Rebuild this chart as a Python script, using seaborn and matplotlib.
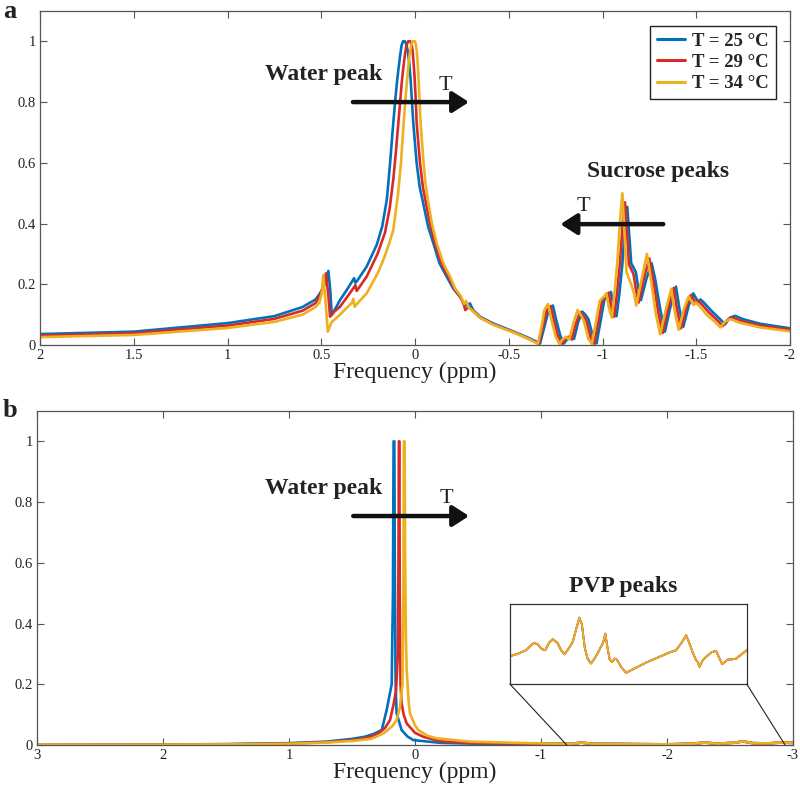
import numpy as np
import pandas as pd
import seaborn as sns
import matplotlib
matplotlib.use("Agg")
import matplotlib.pyplot as plt
from matplotlib.patches import ConnectionPatch
from matplotlib.ticker import FuncFormatter

# ------------------------------------------------------------
# Series names / colours
series = ["T = 25 °C", "T = 29 °C", "T = 34 °C"]
colors = ["#0072BD", "#D92A2A", "#EDB120"]

# ------------------------------------------------------------
# Panel a: sucrose solution spectra (frequency ppm, normalised intensity)
blue_a = [(2.0, 0.036), (1.5, 0.044), (1.0, 0.072), (0.75, 0.095), (0.6, 0.125), (0.53, 0.15),
          (0.507, 0.17), (0.48, 0.2), (0.462, 0.244), (0.452, 0.18), (0.444, 0.099), (0.42, 0.125),
          (0.4, 0.148), (0.36, 0.185), (0.325, 0.22), (0.318, 0.205), (0.31, 0.21), (0.258, 0.258),
          (0.204, 0.33), (0.175, 0.39), (0.15, 0.48), (0.133, 0.598), (0.12, 0.70), (0.107, 0.795),
          (0.097, 0.86), (0.089, 0.905), (0.08, 0.95), (0.072, 0.985), (0.064, 1.0), (0.054, 1.0),
          (0.046, 0.99), (0.038, 0.965), (0.03, 0.925), (0.023, 0.87), (0.016, 0.80),
          (0.009, 0.73), (-0.009, 0.598), (-0.025, 0.52), (-0.044, 0.466), (-0.07, 0.39),
          (-0.098, 0.335), (-0.13, 0.27), (-0.169, 0.225), (-0.205, 0.185),
          (-0.24, 0.159), (-0.262, 0.137), (-0.275, 0.13), (-0.293, 0.137), (-0.31, 0.115),
          (-0.347, 0.093), (-0.42, 0.07), (-0.507, 0.049), (-0.6, 0.025), (-0.667, 0.005), (-0.69, 0.06),
          (-0.715, 0.12), (-0.735, 0.13), (-0.75, 0.09), (-0.775, 0.03), (-0.795, 0.005),
          (-0.812, 0.02), (-0.83, 0.03), (-0.848, 0.02), (-0.87, 0.075), (-0.892, 0.11),
          (-0.908, 0.10), (-0.925, 0.085), (-0.95, 0.025), (-0.968, 0.005), (-0.99, 0.08),
          (-1.01, 0.15), (-1.03, 0.165), (-1.045, 0.175), (-1.058, 0.13), (-1.075, 0.095),
          (-1.09, 0.17), (-1.105, 0.26), (-1.12, 0.39), (-1.132, 0.455), (-1.143, 0.36),
          (-1.153, 0.27), (-1.165, 0.255), (-1.178, 0.24), (-1.19, 0.19), (-1.205, 0.148),
          (-1.235, 0.22), (-1.262, 0.269), (-1.28, 0.22), (-1.31, 0.11), (-1.333, 0.044),
          (-1.36, 0.12), (-1.392, 0.192), (-1.41, 0.12), (-1.431, 0.06), (-1.46, 0.13),
          (-1.484, 0.17), (-1.498, 0.155), (-1.511, 0.142), (-1.522, 0.15), (-1.54, 0.14),
          (-1.58, 0.113), (-1.627, 0.085), (-1.653, 0.068), (-1.68, 0.09), (-1.707, 0.096),
          (-1.75, 0.085), (-1.84, 0.07), (-2.0, 0.055)]

red_a = [(2.0, 0.031), (1.5, 0.039), (1.0, 0.064), (0.75, 0.086), (0.6, 0.113), (0.53, 0.138),
         (0.515, 0.155), (0.49, 0.19), (0.475, 0.236), (0.463, 0.17), (0.453, 0.093), (0.43, 0.11),
         (0.4, 0.126), (0.36, 0.16), (0.325, 0.19), (0.318, 0.197), (0.311, 0.178), (0.258, 0.225),
         (0.20, 0.30), (0.16, 0.37), (0.135, 0.45), (0.115, 0.55), (0.10, 0.65), (0.08, 0.795),
         (0.07, 0.87), (0.062, 0.915), (0.054, 0.955), (0.046, 0.985), (0.037, 1.0), (0.025, 1.0),
         (0.018, 0.99), (0.012, 0.965), (0.004, 0.90), (-0.003, 0.82),
         (-0.009, 0.73), (-0.027, 0.598), (-0.042, 0.52), (-0.059, 0.466), (-0.08, 0.40),
         (-0.107, 0.335), (-0.14, 0.27), (-0.178, 0.225), (-0.21, 0.185),
         (-0.245, 0.155), (-0.262, 0.13), (-0.268, 0.115), (-0.285, 0.125), (-0.305, 0.115),
         (-0.347, 0.09), (-0.42, 0.067), (-0.507, 0.047), (-0.6, 0.022), (-0.66, 0.004), (-0.68, 0.055),
         (-0.703, 0.115), (-0.723, 0.128), (-0.738, 0.088), (-0.763, 0.028), (-0.783, 0.004),
         (-0.8, 0.018), (-0.818, 0.027), (-0.836, 0.018), (-0.858, 0.07), (-0.88, 0.108),
         (-0.896, 0.098), (-0.913, 0.082), (-0.938, 0.022), (-0.956, 0.004), (-0.978, 0.078),
         (-0.998, 0.148), (-1.018, 0.162), (-1.033, 0.172), (-1.046, 0.128), (-1.063, 0.093),
         (-1.078, 0.175), (-1.093, 0.27), (-1.108, 0.40), (-1.12, 0.47), (-1.131, 0.37),
         (-1.141, 0.265), (-1.153, 0.25), (-1.166, 0.232), (-1.178, 0.183), (-1.193, 0.14),
         (-1.223, 0.225), (-1.25, 0.285), (-1.268, 0.225), (-1.298, 0.105), (-1.321, 0.04),
         (-1.348, 0.115), (-1.38, 0.188), (-1.398, 0.115), (-1.419, 0.055), (-1.448, 0.125),
         (-1.472, 0.165), (-1.486, 0.15), (-1.499, 0.137), (-1.51, 0.145), (-1.528, 0.135),
         (-1.568, 0.107), (-1.615, 0.08), (-1.641, 0.062), (-1.668, 0.084), (-1.695, 0.09),
         (-1.74, 0.079), (-1.84, 0.064), (-2.0, 0.05)]

yellow_a = [(2.0, 0.026), (1.5, 0.033), (1.0, 0.056), (0.75, 0.076), (0.6, 0.10), (0.53, 0.125),
            (0.51, 0.14), (0.498, 0.17), (0.489, 0.23), (0.478, 0.15), (0.465, 0.044), (0.445, 0.075),
            (0.4, 0.10), (0.36, 0.125), (0.335, 0.14), (0.329, 0.152), (0.322, 0.126), (0.31, 0.135),
            (0.258, 0.17), (0.20, 0.235), (0.169, 0.28), (0.14, 0.33), (0.116, 0.378), (0.09, 0.50),
            (0.075, 0.598), (0.064, 0.70), (0.053, 0.795), (0.044, 0.86), (0.036, 0.915),
            (0.029, 0.955), (0.021, 0.985), (0.013, 1.0), (0.0, 1.0), (-0.006, 0.985),
            (-0.012, 0.95), (-0.017, 0.90), (-0.023, 0.82), (-0.03, 0.73), (-0.046, 0.598),
            (-0.058, 0.52), (-0.072, 0.466), (-0.09, 0.40), (-0.116, 0.335), (-0.15, 0.27),
            (-0.187, 0.225), (-0.215, 0.185), (-0.245, 0.16), (-0.262, 0.135),
            (-0.272, 0.145), (-0.285, 0.125), (-0.347, 0.09), (-0.42, 0.066), (-0.507, 0.046), (-0.6, 0.022),
            (-0.655, 0.004), (-0.675, 0.06), (-0.69, 0.115), (-0.71, 0.135), (-0.725, 0.09),
            (-0.75, 0.028), (-0.77, 0.004), (-0.787, 0.018), (-0.805, 0.027), (-0.823, 0.018),
            (-0.845, 0.072), (-0.867, 0.115), (-0.883, 0.10), (-0.9, 0.08), (-0.925, 0.02),
            (-0.943, 0.004), (-0.965, 0.075), (-0.985, 0.145), (-1.008, 0.16), (-1.021, 0.17),
            (-1.033, 0.125), (-1.05, 0.09), (-1.065, 0.18), (-1.08, 0.28), (-1.095, 0.42),
            (-1.106, 0.50), (-1.118, 0.36), (-1.128, 0.24), (-1.14, 0.22), (-1.153, 0.2),
            (-1.168, 0.17), (-1.18, 0.13), (-1.21, 0.22), (-1.237, 0.30), (-1.255, 0.23),
            (-1.285, 0.10), (-1.308, 0.035), (-1.335, 0.11), (-1.367, 0.185), (-1.385, 0.11),
            (-1.406, 0.05), (-1.435, 0.12), (-1.46, 0.16), (-1.473, 0.145), (-1.486, 0.132),
            (-1.497, 0.14), (-1.515, 0.13), (-1.555, 0.10), (-1.602, 0.075), (-1.628, 0.058),
            (-1.655, 0.078), (-1.682, 0.085), (-1.73, 0.074), (-1.84, 0.058), (-2.0, 0.045)]

# ------------------------------------------------------------
# Panel b: PVP solution spectra
blue_b = [(3.0, 0.0), (2.5, 0.0005), (2.0, 0.001), (1.5, 0.003), (1.0, 0.006), (0.7, 0.011),
          (0.5, 0.02), (0.4, 0.027), (0.33, 0.036), (0.264, 0.049), (0.225, 0.115), (0.185, 0.2),
          (0.175, 0.5), (0.17, 1.0), (0.164, 1.0), (0.159, 0.5), (0.154, 0.2), (0.146, 0.104),
          (0.106, 0.049), (0.06, 0.028), (0.013, 0.016), (-0.2, 0.007), (-0.5, 0.004), (-1.0, 0.003)]

red_b = [(3.0, 0.0), (2.5, 0.0005), (2.0, 0.001), (1.5, 0.002), (1.0, 0.005), (0.7, 0.009),
         (0.5, 0.016), (0.4, 0.022), (0.3, 0.035), (0.24, 0.055), (0.198, 0.082), (0.172, 0.13),
         (0.15, 0.18), (0.136, 0.3), (0.131, 0.6), (0.128, 1.0), (0.124, 1.0), (0.121, 0.5),
         (0.115, 0.2), (0.106, 0.137), (0.09, 0.1), (0.066, 0.071), (0.0, 0.04), (-0.066, 0.027),
         (-0.2, 0.012), (-0.5, 0.006), (-1.0, 0.004)]

yellow_b = [(3.0, 0.0), (2.5, 0.0005), (2.0, 0.001), (1.5, 0.002), (1.0, 0.004), (0.7, 0.008),
            (0.5, 0.013), (0.35, 0.02), (0.25, 0.038), (0.18, 0.062), (0.146, 0.082), (0.119, 0.125),
            (0.1, 0.2), (0.092, 0.5), (0.088, 1.0), (0.083, 1.0), (0.078, 0.6), (0.072, 0.35),
            (0.066, 0.247), (0.05, 0.14), (0.04, 0.104), (0.0, 0.065), (-0.026, 0.049),
            (-0.1, 0.03), (-0.172, 0.022), (-0.437, 0.011), (-1.0, 0.005)]

# low-intensity PVP region, common to the three temperatures
pvp_tail = [(-1.1, 0.004), (-1.25, 0.004), (-1.32, 0.008), (-1.4, 0.004), (-1.7, 0.003),
            (-2.0, 0.002), (-2.2, 0.004), (-2.3, 0.008), (-2.4, 0.004), (-2.55, 0.008),
            (-2.6, 0.012), (-2.68, 0.006), (-2.8, 0.005), (-2.9, 0.008), (-3.0, 0.007)]

# zoomed PVP peaks shown in the inset (ppm, relative units)
pvp_zoom = [(-1.204, 0.35), (-1.26, 0.38), (-1.322, 0.425), (-1.36, 0.49), (-1.38, 0.517),
            (-1.407, 0.50), (-1.435, 0.44), (-1.462, 0.425), (-1.49, 0.52), (-1.516, 0.5625),
            (-1.55, 0.52), (-1.58, 0.42), (-1.603, 0.375), (-1.635, 0.45), (-1.663, 0.53),
            (-1.69, 0.70), (-1.712, 0.833), (-1.73, 0.75), (-1.752, 0.45), (-1.772, 0.32),
            (-1.797, 0.258), (-1.83, 0.34), (-1.857, 0.425), (-1.885, 0.52), (-1.902, 0.633),
            (-1.918, 0.45), (-1.935, 0.30), (-1.951, 0.279), (-1.97, 0.32), (-1.986, 0.308),
            (-2.02, 0.21), (-2.053, 0.142), (-2.2, 0.27), (-2.37, 0.396), (-2.419, 0.425),
            (-2.46, 0.52), (-2.493, 0.6125), (-2.515, 0.52), (-2.545, 0.38), (-2.566, 0.30),
            (-2.578, 0.28), (-2.59, 0.217), (-2.615, 0.30), (-2.639, 0.342), (-2.68, 0.40),
            (-2.712, 0.417), (-2.735, 0.33), (-2.757, 0.25), (-2.798, 0.308), (-2.83, 0.31),
            (-2.859, 0.32), (-2.937, 0.425)]


def to_frame(curves):
    rows = []
    for name, pts in zip(series, curves):
        for f, v in pts:
            rows.append((f, v, name))
    return pd.DataFrame(rows, columns=["freq", "intensity", "series"])


df_a = to_frame([blue_a, red_a, yellow_a])
df_b = to_frame([blue_b + pvp_tail, red_b + pvp_tail, yellow_b + pvp_tail])
df_in = to_frame([pvp_zoom, pvp_zoom, pvp_zoom])

#****************************************
sns.set_theme(style="white")
plt.rcParams["font.family"] = ["Liberation Serif", "DejaVu Serif"]
plt.rcParams["axes.unicode_minus"] = False
txt = "#222222"

fig = plt.figure(figsize=(8, 7.9), dpi=100)
ax_a = fig.add_axes([0.05, 0.5633, 0.9375, 0.4228])
ax_b = fig.add_axes([0.04625, 0.057, 0.945, 0.4228])

line_kw = dict(x="freq", y="intensity", hue="series", hue_order=series, palette=colors,
               sort=False, estimator=None, linewidth=1.9)
sns.lineplot(data=df_a, ax=ax_a, **line_kw)
sns.lineplot(data=df_b, ax=ax_b, legend=False, **line_kw)

fmt = FuncFormatter(lambda v, p: f"{v:g}")
for ax, xt in [(ax_a, [2, 1.5, 1, 0.5, 0, -0.5, -1, -1.5, -2]), (ax_b, [3, 2, 1, 0, -1, -2, -3])]:
    ax.set_ylim(0, 1.1)
    ax.set_yticks([0, 0.2, 0.4, 0.6, 0.8, 1])
    ax.set_xticks(xt)
    ax.xaxis.set_major_formatter(fmt)
    ax.yaxis.set_major_formatter(fmt)
    ax.tick_params(direction="in", bottom=True, left=True, top=True, right=True,
                   labeltop=False, labelright=False, length=5, width=0.8,
                   color="#555555", labelcolor=txt, labelsize=10.5, pad=3)
    for s in ax.spines.values():
        s.set_color("#555555")
        s.set_linewidth(0.9)
    ax.set_xlabel("Frequency (ppm)", fontsize=17, labelpad=0, color=txt)
    ax.set_ylabel("")

ax_a.set_xlim(2, -2)
ax_b.set_xlim(3, -3)

arrow_kw = dict(arrowstyle="-|>,head_length=0.7,head_width=0.45", lw=3.2, color="#111111",
                shrinkA=0, shrinkB=0, mutation_scale=14)

# Panel a annotations
ax_a.text(0.485, 0.891, "Water peak", ha="center", va="center", fontsize=17,
          fontweight="bold", color=txt)
ax_a.annotate("", xy=(-0.288, 0.8), xytext=(0.331, 0.8), arrowprops=arrow_kw)
ax_a.text(-0.16, 0.855, "T", ha="center", va="center", fontsize=16, color=txt)
ax_a.text(-1.298, 0.57, "Sucrose peaks", ha="center", va="center", fontsize=17,
          fontweight="bold", color=txt)
ax_a.annotate("", xy=(-0.776, 0.398), xytext=(-1.324, 0.398), arrowprops=arrow_kw)
ax_a.text(-0.898, 0.455, "T", ha="center", va="center", fontsize=16, color=txt)

sns.move_legend(ax_a, "upper right", bbox_to_anchor=(0.981, 0.955), title=None,
                frameon=True, fancybox=False, framealpha=1, edgecolor="#222222",
                prop={"family": "Liberation Serif", "weight": "bold", "size": 13.5},
                handlelength=1.5, handletextpad=0.4, labelspacing=0.22,
                borderpad=0.35, borderaxespad=0)
leg = ax_a.get_legend()
leg.get_frame().set_linewidth(1.0)
for h in leg.legend_handles:
    h.set_linewidth(2.2)

# Panel b annotations
ax_b.text(0.722, 0.844, "Water peak", ha="center", va="center", fontsize=17,
          fontweight="bold", color=txt)
ax_b.annotate("", xy=(-0.429, 0.754), xytext=(0.49, 0.754), arrowprops=arrow_kw)
ax_b.text(-0.252, 0.811, "T", ha="center", va="center", fontsize=16, color=txt)
ax_b.text(-1.653, 0.521, "PVP peaks", ha="center", va="center", fontsize=17,
          fontweight="bold", color=txt)

# Inset with zoomed PVP peaks
ax_in = fig.add_axes([0.6375, 0.134, 0.296, 0.101])
sns.lineplot(data=df_in, ax=ax_in, legend=False, **dict(line_kw, linewidth=1.3))
ax_in.set_xlim(-1.204, -2.937)
ax_in.set_ylim(0, 1)
ax_in.set_xticks([])
ax_in.set_yticks([])
ax_in.set_xlabel("")
ax_in.set_ylabel("")
for s in ax_in.spines.values():
    s.set_color("#333333")
    s.set_linewidth(0.9)

for xa, xb in [(0, -1.204), (1, -2.937)]:
    con = ConnectionPatch(xyA=(xa, 0), coordsA=ax_in.transAxes, xyB=(xb, 0),
                          coordsB=ax_b.transData, color="#222222", lw=0.8)
    fig.add_artist(con)

fig.text(0.012, 0.985, "a", ha="center", va="center", fontsize=19, fontweight="bold", color=txt)
fig.text(0.013, 0.481, "b", ha="center", va="center", fontsize=19, fontweight="bold", color=txt)

fig.savefig("out.png", dpi=100)
